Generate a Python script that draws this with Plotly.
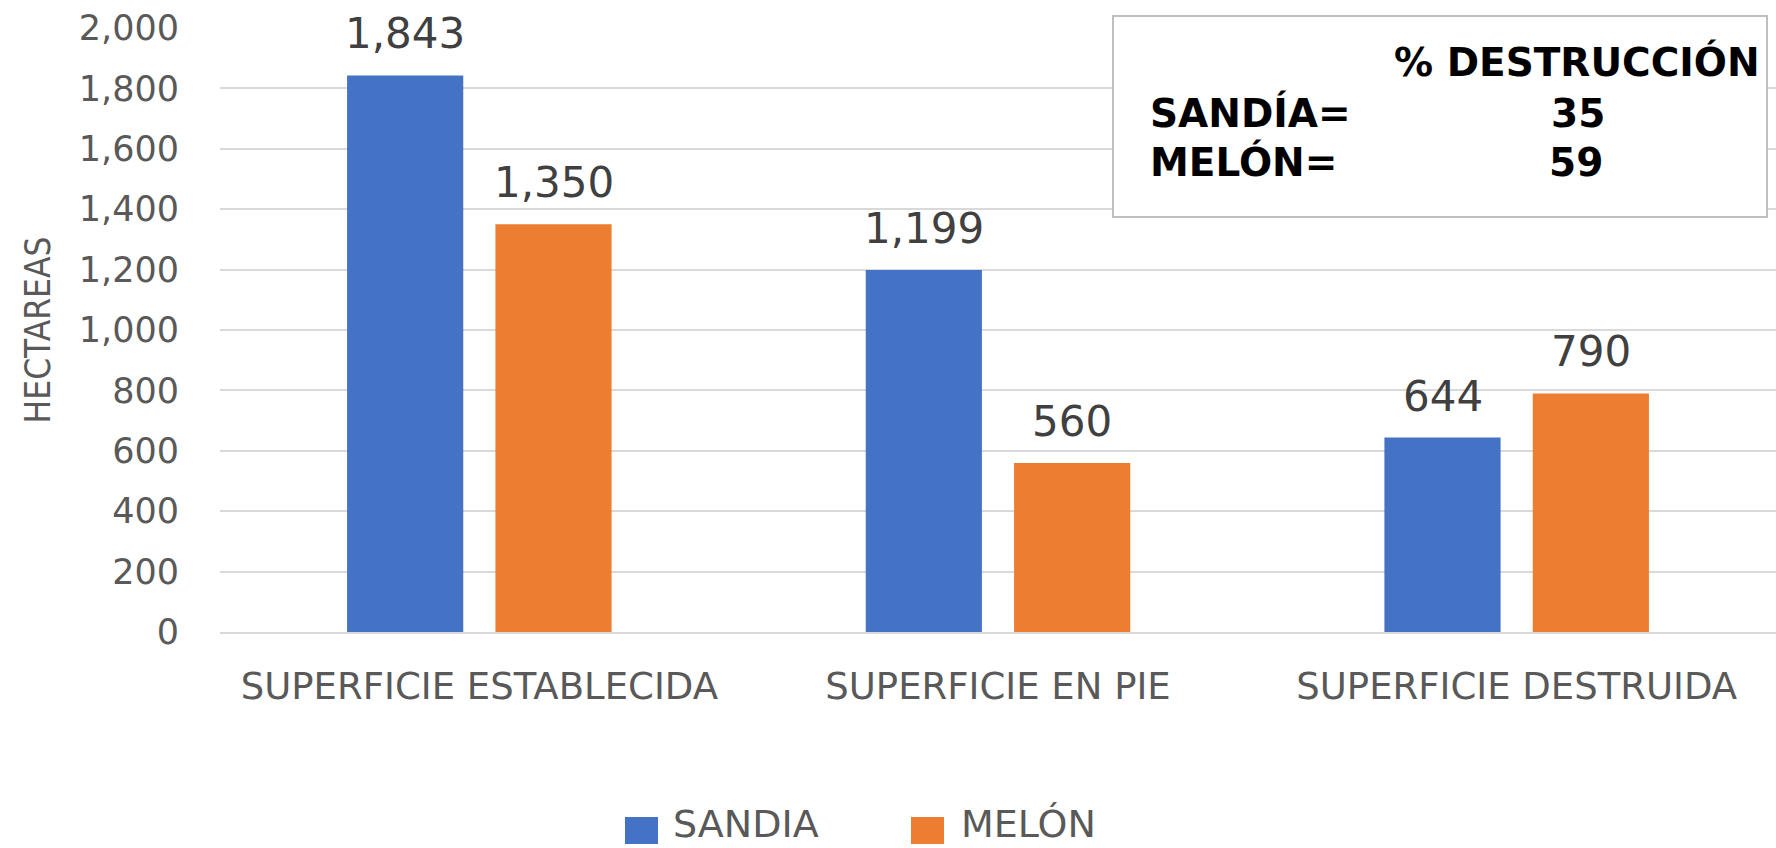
import plotly.graph_objects as go

# ---- data ----
categories = ["SUPERFICIE ESTABLECIDA", "SUPERFICIE EN PIE", "SUPERFICIE DESTRUIDA"]
sandia = [1843, 1199, 644]
melon = [1350, 560, 790]
series_names = ["SANDIA", "MELÓN"]
y_ticks = [0, 200, 400, 600, 800, 1000, 1200, 1400, 1600, 1800, 2000]
destruccion_title = "% DESTRUCCIÓN"
destruccion_labels = ["SANDÍA=", "MELÓN="]
destruccion_values = [35, 59]

# ---- layout geometry (pixels) ----
W, H = 1776, 848
L, R, T, B = 220, 0, 28, 216

def px_x(x):
    return (x - L) / (W - L - R)

def px_y(y):
    return (H - B - y) / (H - T - B)

BLUE = "#4472C4"
ORANGE = "#ED7D31"
GRID = "#D9D9D9"
TICK = "#595959"
LABEL = "#404040"
FONT = "DejaVu Sans"

bar_width = 0.224
offsets = [-0.255, 0.031]

fig = go.Figure()
for name, vals, color, off in zip(series_names, [sandia, melon], [BLUE, ORANGE], offsets):
    fig.add_trace(go.Bar(
        x=categories, y=vals, name=name, marker=dict(color=color, line=dict(width=0)),
        width=bar_width, offset=off, showlegend=False,
    ))

annotations = []
# data labels
for vals, off in zip([sandia, melon], offsets):
    for i, v in enumerate(vals):
        annotations.append(dict(
            x=i + off + bar_width / 2, y=v, xref="x", yref="y",
            text=f"{v:,}", showarrow=False, yanchor="bottom", xanchor="center",
            yshift=15, font=dict(family=FONT, size=42, color=LABEL),
        ))

# info box text
BOXFONT = dict(family=FONT, size=39, color="#000000", weight="bold")
annotations.append(dict(
    x=px_x(1762), y=px_y(62), xref="paper", yref="paper", text=destruccion_title,
    showarrow=False, xanchor="right", yanchor="middle", font=BOXFONT,
))
for lab, val, yy, vx in zip(destruccion_labels, destruccion_values, [113, 162], [1578, 1576]):
    annotations.append(dict(
        x=px_x(1148), y=px_y(yy), xref="paper", yref="paper", text=lab,
        showarrow=False, xanchor="left", yanchor="middle", font=BOXFONT,
    ))
    annotations.append(dict(
        x=px_x(vx), y=px_y(yy), xref="paper", yref="paper", text=str(val),
        showarrow=False, xanchor="center", yanchor="middle", font=BOXFONT,
    ))

shapes = [dict(
    type="rect", xref="paper", yref="paper",
    x0=px_x(1113), x1=px_x(1767), y0=px_y(217), y1=px_y(16),
    line=dict(color="#BFBFBF", width=2), fillcolor="white", layer="above",
)]
# manual legend
for name, color, sx, tx in zip(series_names, [BLUE, ORANGE], [625, 911], [672, 960]):
    shapes.append(dict(
        type="rect", xref="paper", yref="paper",
        x0=px_x(sx), x1=px_x(sx + 33), y0=px_y(844), y1=px_y(817),
        line=dict(width=0), fillcolor=color,
    ))
    annotations.append(dict(
        x=px_x(tx), y=px_y(824), xref="paper", yref="paper", text=name,
        showarrow=False, xanchor="left", yanchor="middle", borderpad=0,
        font=dict(family=FONT, size=38, color=TICK),
    ))

fig.update_layout(
    width=W, height=H,
    margin=dict(l=L, r=R, t=T, b=B, autoexpand=False),
    paper_bgcolor="white", plot_bgcolor="white",
    barmode="overlay",
    showlegend=False,
    annotations=annotations,
    shapes=shapes,
    xaxis=dict(
        type="category", showgrid=False, showline=True, linecolor=GRID, linewidth=2,
        ticks="", tickfont=dict(family=FONT, size=37, color=TICK),
        ticklabelstandoff=21, range=[-0.5, 2.5],
    ),
    yaxis=dict(
        range=[0, 2000], tickvals=y_ticks, ticktext=[f"{v:,}" for v in y_ticks],
        showgrid=True, gridcolor=GRID, gridwidth=2, zeroline=False, showline=False,
        ticks="", tickfont=dict(family=FONT, size=35, color=TICK),
        ticklabelstandoff=40,
        title=dict(text="HECTAREAS", standoff=17,
                   font=dict(family="Liberation Sans Narrow, DejaVu Sans Condensed, sans-serif", size=35, color=TICK)),
        automargin=False,
    ),
)

fig.write_html("out.html", config={"displayModeBar": False},
               post_script="document.body.style.margin='0';")
